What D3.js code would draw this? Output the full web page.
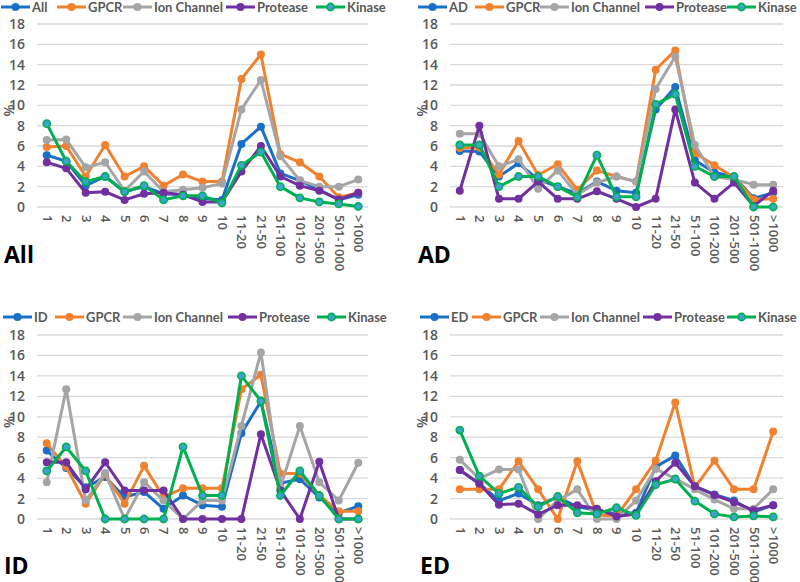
<!DOCTYPE html>
<html><head><meta charset="utf-8">
<script src="https://cdn.jsdelivr.net/npm/d3@7"></script>
<style>
body{margin:0;background:#fff;}
svg{display:block;font-family:"Open Sans",sans-serif;}
</style></head>
<body>
<svg id="c" width="800" height="582"></svg>
<script>
const categories = ["1","2","3","4","5","6","7","8","9","10","11-20","21-50","51-100","101-200","201-500","501-1000",">1000"];
const yTicks = [0,2,4,6,8,10,12,14,16,18];
const seriesNames = ["GPCR","Ion Channel","Protease","Kinase"];
const colors = ["#1a6fc9","#f0812f","#a5a5a5","#7030a0","#00b050"];

// Panel "All"
const allMain     = [5.1,4.5,2.1,3.0,1.5,2.0,1.3,1.2,0.85,0.7,6.2,7.9,3.3,2.6,1.7,0.7,1.2];
const allGPCR     = [5.9,6.0,3.0,6.1,3.0,4.0,2.1,3.2,2.5,2.5,12.6,15.0,5.2,4.4,3.0,0.95,1.4];
const allIon      = [6.6,6.65,3.9,4.4,1.6,3.5,1.5,1.7,1.9,2.3,9.6,12.5,5.0,2.6,2.0,2.0,2.7];
const allProtease = [4.4,3.8,1.4,1.5,0.7,1.3,1.4,1.2,0.5,0.5,3.5,6.0,3.0,2.1,1.6,0.75,1.4];
const allKinase   = [8.2,4.5,2.5,3.0,1.5,2.1,0.7,1.1,1.1,0.4,4.1,5.4,2.0,0.9,0.5,0.3,0.05];

// Panel "AD"
const adMain     = [5.5,5.45,3.0,4.3,2.7,2.0,1.3,2.5,1.6,1.4,9.6,11.8,4.6,3.4,3.0,0.85,1.4];
const adGPCR     = [5.8,5.85,3.2,6.5,3.15,4.2,1.7,3.6,3.0,2.5,13.5,15.4,5.3,4.1,2.9,0.75,0.8];
const adIon      = [7.2,7.2,4.0,4.7,1.8,3.6,1.2,2.4,3.0,2.5,11.6,14.8,6.1,3.0,2.7,2.2,2.2];
const adProtease = [1.6,8.0,0.8,0.8,2.5,0.8,0.8,1.55,0.8,0,0.8,9.6,2.4,0.8,2.4,0.1,1.6];
const adKinase   = [6.1,6.1,2.0,3.0,3.0,2.0,1.0,5.1,1.0,1.0,10.1,11.1,4.0,3.0,3.0,0,0];

// Panel "ID"
const idMain     = [6.7,5.0,3.1,4.1,2.15,2.65,1.0,2.3,1.35,1.2,8.4,11.5,3.5,3.9,2.1,0.6,1.25];
const idGPCR     = [7.4,5.1,1.5,4.35,1.5,5.2,2.15,3.0,3.0,3.0,12.7,14.1,4.45,4.45,2.3,0.75,0.75];
const idIon      = [3.6,12.7,1.8,4.5,0,3.6,1.8,0,1.8,1.8,9.1,16.3,3.1,9.1,3.6,1.8,5.5];
const idProtease = [5.55,5.55,2.9,5.55,2.8,2.8,2.8,0,0,0,0,8.3,2.8,0,5.6,0,0];
const idKinase   = [4.7,7.05,4.7,0,0,0,0,7.05,2.3,2.3,14.0,11.55,2.3,4.7,2.3,0,0];

// Panel "ED"
const edMain     = [4.8,3.45,1.8,2.5,1.35,2.15,1.2,0.85,0.5,0.6,5.1,6.2,3.2,2.4,1.8,0.7,1.35];
const edGPCR     = [2.9,2.9,2.9,5.65,2.9,0,5.65,0.4,0.3,2.9,5.7,11.4,3.1,5.7,2.9,2.9,8.55];
const edIon      = [5.8,3.95,4.85,4.85,0,1.8,2.9,0,0,1.8,4.9,3.95,2.9,1.9,1.0,1.0,2.9];
const edProtease = [4.8,3.45,1.4,1.5,0.45,1.35,1.35,1.0,0.25,0.5,3.7,5.5,3.2,2.35,1.65,0.85,1.35];
const edKinase   = [8.7,4.2,2.5,3.1,1.2,2.2,0.6,0.5,1.1,0.35,3.35,3.9,1.75,0.5,0.2,0.3,0.2];

const panels = [
  {label:"All", series:[allMain,allGPCR,allIon,allProtease,allKinase], x0:37, x1:368, yb:207, yt:24, leg:[1,57,123,226,316], legY:7, labX:4, labY:263},
  {label:"AD",  series:[adMain,adGPCR,adIon,adProtease,adKinase],      x0:450, x1:783, yb:207, yt:24, leg:[418,475,540,645,727], legY:7, labX:418, labY:263},
  {label:"ID",  series:[idMain,idGPCR,idIon,idProtease,idKinase],      x0:37, x1:368, yb:519, yt:335, leg:[3,55,123,228,317], legY:317, labX:4, labY:574},
  {label:"ED",  series:[edMain,edGPCR,edIon,edProtease,edKinase],      x0:450, x1:783, yb:519, yt:335, leg:[420,472,540,643,727], legY:317, labX:420, labY:574}
];

const svg = d3.select("#c");
const txtCol = "#595959";

panels.forEach(p => {
  const g = svg.append("g");
  const x = d3.scalePoint().domain(categories).range([p.x0, p.x1]).padding(0.5);
  const y = d3.scaleLinear().domain([0,18]).range([p.yb, p.yt]);

  // gridlines
  g.append("g").selectAll("line").data(yTicks).join("line")
    .attr("x1", p.x0).attr("x2", p.x1)
    .attr("y1", d => y(d)).attr("y2", d => y(d))
    .attr("stroke", "#d9d9d9").attr("stroke-width", 1.3);

  // y axis labels
  const ya = g.append("g").attr("transform", `translate(${p.x0},0)`)
    .call(d3.axisLeft(y).tickValues(yTicks).tickSize(0).tickPadding(12));
  ya.select(".domain").remove();
  ya.selectAll("text").attr("fill", txtCol).style("font-size","14px").style("font-weight","600").style("font-family","'Open Sans',sans-serif");

  // x axis labels rotated
  const xa = g.append("g").attr("transform", `translate(0,${p.yb})`)
    .call(d3.axisBottom(x).tickSize(0).tickPadding(0));
  xa.select(".domain").remove();
  xa.selectAll("text")
    .attr("fill", txtCol).style("font-size","13px").style("font-weight","600").style("font-family","'Open Sans',sans-serif")
    .attr("text-anchor","start").attr("dy","0.35em")
    .attr("transform","translate(0,8) rotate(90)")
    .attr("x",0).attr("y",0);

  // % label
  g.append("text").attr("transform", `translate(${p.x0-23},${y(9.5)}) rotate(-90)`)
    .attr("text-anchor","middle").attr("fill", txtCol)
    .style("font-size","14px").style("font-weight","600").text("%");

  // lines
  const line = d3.line().x((d,i) => x(categories[i])).y(d => y(d));
  p.series.forEach((s, si) => {
    g.append("path").datum(s).attr("d", line)
      .attr("fill","none").attr("stroke", colors[si]).attr("stroke-width", 3)
      .attr("stroke-linejoin","round");
    g.append("g").selectAll("circle").data(s).join("circle")
      .attr("cx", (d,i) => x(categories[i])).attr("cy", d => y(d))
      .attr("r", si === 4 ? 3.6 : 4)
      .attr("fill", si === 4 ? "#3ba3d0" : colors[si])
      .attr("stroke", colors[si]).attr("stroke-width", si === 4 ? 1.6 : 0);
  });

  // legend
  const names = [p.label].concat(seriesNames);
  names.forEach((n, i) => {
    const lx = p.leg[i];
    const lg = g.append("g");
    lg.append("line").attr("x1", lx).attr("x2", lx+29).attr("y1", p.legY).attr("y2", p.legY)
      .attr("stroke", colors[i]).attr("stroke-width", 3);
    lg.append("circle").attr("cx", lx+14.5).attr("cy", p.legY).attr("r", i===4?3.6:4)
      .attr("fill", i===4 ? "#3ba3d0" : colors[i]).attr("stroke", colors[i]).attr("stroke-width", i===4?1.6:0);
    lg.append("text").attr("x", lx+31).attr("y", p.legY).attr("dy","0.35em")
      .attr("fill", txtCol).style("font-size","13px").style("font-weight","700")
      .style("font-family","Lato,sans-serif").text(n);
  });

  // panel label
  g.append("text").attr("x", p.labX).attr("y", p.labY).attr("fill","#000")
    .style("font-size","23px").style("font-weight","700").style("font-family","'Open Sans',sans-serif")
    .text(p.label);
});
</script>
</body></html>
